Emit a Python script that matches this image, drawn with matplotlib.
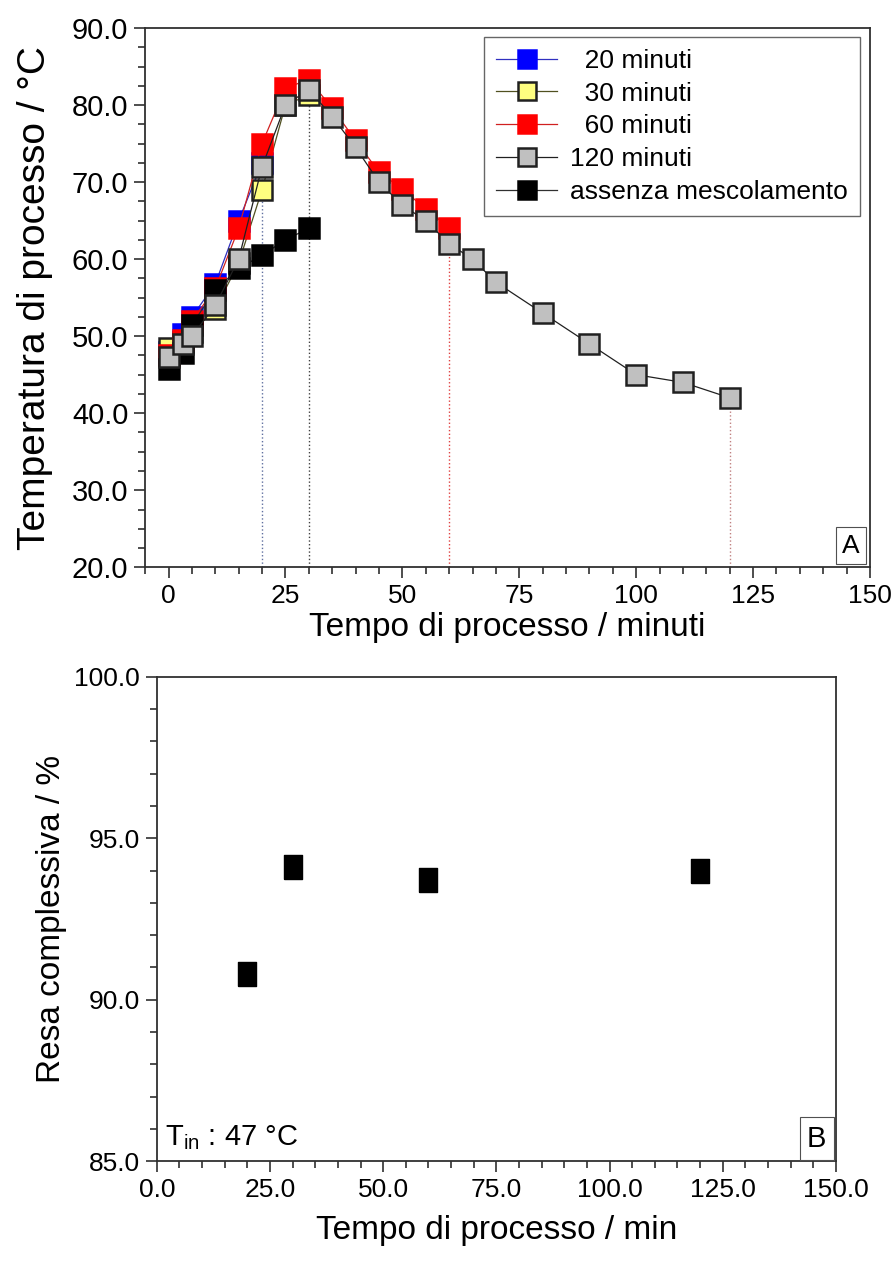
import matplotlib
matplotlib.use('Agg')
import matplotlib.pyplot as plt
from matplotlib.ticker import MultipleLocator, FormatStrFormatter

plt.rcParams['font.family'] = ['Liberation Sans', 'DejaVu Sans']
plt.rcParams['mathtext.fontset'] = 'custom'
plt.rcParams['mathtext.rm'] = 'Liberation Sans'

# --- panel A: process temperature vs time ---
t20 = [0, 3, 5, 10, 15, 20]
T20 = [48.0, 50.3, 52.5, 56.8, 65.0, 72.5]

t30 = [0, 3, 5, 10, 15, 20, 25, 30]
T30 = [48.5, 49.3, 50.5, 53.5, 59.5, 69.0, 80.0, 81.3]

t60 = [0, 3, 5, 10, 15, 20, 25, 30, 35, 40, 45, 50, 55, 60]
T60 = [47.5, 49.5, 52.0, 56.2, 64.0, 75.0, 82.2, 83.3, 79.6, 75.4, 71.3, 69.1, 66.5, 64.1]

t120 = [0, 3, 5, 10, 15, 20, 25, 30, 35, 40, 45, 50, 55, 60, 65, 70, 80, 90, 100, 110, 120]
T120 = [47.3, 49.0, 50.0, 54.0, 60.0, 72.0, 80.0, 82.0, 78.5, 74.5, 70.0, 67.0, 65.0,
        62.0, 60.0, 57.0, 53.0, 49.0, 45.0, 44.0, 42.0]

t_none = [0, 3, 5, 10, 15, 20, 25, 30]
T_none = [45.8, 47.8, 51.5, 56.0, 58.8, 60.5, 62.5, 64.0]

labels = ['\u200720 minuti', '\u200730 minuti', '\u200760 minuti', '120 minuti',
          'assenza mescolamento']

# --- panel B: overall yield ---
t_resa = [20, 30, 60, 120]
resa = [90.8, 94.1, 93.7, 94.0]

fig = plt.figure(figsize=(8.96, 12.72), dpi=100)
ax1 = fig.add_axes([0.162, 0.554, 0.809, 0.424])
ax2 = fig.add_axes([0.175, 0.087, 0.758, 0.381])

ms = 14
series = [
    (t20, T20, '#0000ff', '#0000ff', '#3030c0', 2),
    (t30, T30, '#ffff80', '#202020', '#505020', 3),
    (t60, T60, '#ff0000', '#ff0000', '#d02020', 4),
    (t120, T120, '#c0c0c0', '#202020', '#202020', 6),
    (t_none, T_none, '#000000', '#000000', '#303030', 5),
]
for (x, y, fc, ec, lc, z), lab in zip(series, labels):
    ax1.plot(x, y, '-s', color=lc, lw=0.9, ms=ms, mfc=fc, mec=ec, mew=1.8,
             label=lab, zorder=z)

# dotted guide lines at the end of each mixing period
ax1.vlines(t20[-1], 20, T20[-1], colors='#6070a0', linestyles=':', lw=1.0, zorder=1)
ax1.vlines(t30[-1], 20, T30[-1], colors='#404040', linestyles=':', lw=1.0, zorder=1)
ax1.vlines(t60[-1], 20, T60[-1], colors='#e04040', linestyles=':', lw=1.0, zorder=1)
ax1.vlines(t120[-1], 20, T120[-1], colors='#c08080', linestyles=':', lw=1.0, zorder=1)

ax1.set_xlim(-5, 150)
ax1.set_ylim(20, 90)
ax1.xaxis.set_major_locator(MultipleLocator(25))
ax1.xaxis.set_minor_locator(MultipleLocator(5))
ax1.yaxis.set_major_locator(MultipleLocator(10))
ax1.yaxis.set_minor_locator(MultipleLocator(2.5))
ax1.yaxis.set_major_formatter(FormatStrFormatter('%.1f'))
ax1.tick_params(axis='y', labelsize=21)
ax1.tick_params(axis='x', labelsize=19)
ax1.set_xlabel('Tempo di processo / minuti', fontsize=24, labelpad=3)
ax1.set_ylabel('Temperatura di processo / °C', fontsize=28, labelpad=14)

leg = ax1.legend(loc='upper right', fontsize=19, frameon=True, fancybox=False,
                 edgecolor='#404040', handlelength=2.3, handletextpad=0.5,
                 borderpad=0.45, labelspacing=0.33, markerscale=0.95,
                 borderaxespad=0, bbox_to_anchor=(0.986, 0.983))
leg.get_frame().set_linewidth(1.0)

ax1.text(0.986, 0.018, 'A', transform=ax1.transAxes, fontsize=19, ha='right', va='bottom',
         bbox=dict(boxstyle='square,pad=0.25', fc='white', ec='#505050', lw=0.8))

# panel B - markers a little taller than wide, as in the original
tall_square = [(-0.4, -0.5), (0.4, -0.5), (0.4, 0.5), (-0.4, 0.5), (-0.4, -0.5)]
ax2.plot(t_resa, resa, ls='none', marker=tall_square, color='black', ms=17, zorder=3)
ax2.set_xlim(0, 150)
ax2.set_ylim(85, 100)
ax2.xaxis.set_major_locator(MultipleLocator(25))
ax2.xaxis.set_minor_locator(MultipleLocator(5))
ax2.xaxis.set_major_formatter(FormatStrFormatter('%.1f'))
ax2.yaxis.set_major_locator(MultipleLocator(5))
ax2.yaxis.set_minor_locator(MultipleLocator(1))
ax2.yaxis.set_major_formatter(FormatStrFormatter('%.1f'))
ax2.tick_params(labelsize=19)
ax2.set_xlabel('Tempo di processo / min', fontsize=24, labelpad=9)
ax2.set_ylabel('Resa complessiva / %', fontsize=24, labelpad=5)

ax2.text(0.012, 0.02, r'T$_{\mathregular{in}}$ : 47 °C', transform=ax2.transAxes,
         fontsize=21, ha='left', va='bottom')
ax2.text(0.986, 0.018, 'B', transform=ax2.transAxes, fontsize=21, ha='right', va='bottom',
         bbox=dict(boxstyle='square,pad=0.25', fc='white', ec='#505050', lw=0.8))

for ax in (ax1, ax2):
    for s in ax.spines.values():
        s.set_linewidth(1.3)
        s.set_color('#303030')
    ax.tick_params(which='both', direction='out', top=False, right=False,
                   width=1.2, color='#303030')
    ax.tick_params(which='major', length=8, pad=4)
    ax.tick_params(which='minor', length=5)

fig.savefig('out.png', dpi=100)
